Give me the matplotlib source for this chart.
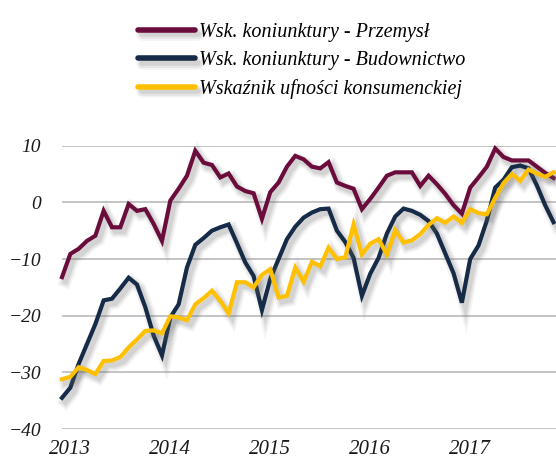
import matplotlib
matplotlib.use('Agg')
import matplotlib.pyplot as plt
import matplotlib.patheffects as pe

# miesiące od 01.2013 do 12.2017
months = list(range(60))
years = ['2013', '2014', '2015', '2016', '2017']

przemysl = [-13.2, -9.1, -8.2, -6.8, -5.9, -1.5, -4.4, -4.4, -0.3, -1.5,
            -1.2, -3.8, -6.8, 0.3, 2.4, 4.7, 9.1, 7.0, 6.6, 4.4,
            5.1, 2.8, 2.0, 1.6, -2.9, 1.8, 3.5, 6.3, 8.2, 7.6,
            6.3, 6.0, 7.1, 3.5, 2.9, 2.4, -1.2, 0.6, 2.6, 4.7,
            5.3, 5.3, 5.3, 2.9, 4.7, 3.2, 1.5, -0.5, -2.0, 2.6,
            4.4, 6.3, 9.5, 8.0, 7.4, 7.4, 7.4, 6.3, 5.2, 4.3]

budownictwo = [-34.5, -32.7, -28.5, -25.0, -21.5, -17.3, -17.0, -15.2, -13.3, -14.5,
               -18.5, -23.5, -27.0, -20.3, -18.0, -11.5, -7.5, -6.3, -5.0, -4.4,
               -3.9, -7.2, -10.6, -13.0, -19.0, -13.5, -10.0, -6.5, -4.3, -2.7,
               -1.8, -1.2, -1.1, -5.0, -7.0, -9.8, -16.5, -12.6, -9.8, -5.5,
               -2.5, -1.1, -1.5, -2.2, -3.3, -5.5, -9.0, -12.5, -17.7, -10.0,
               -7.6, -3.2, 2.6, 4.0, 6.2, 6.5, 6.0, 3.0, -0.5, -3.5]

konsument = [-31.2, -30.8, -29.1, -29.6, -30.3, -28.0, -27.9, -27.3, -25.6, -24.2,
             -22.7, -22.6, -23.1, -20.1, -20.3, -20.8, -18.0, -16.9, -15.6, -17.4,
             -19.6, -14.1, -14.1, -15.0, -12.8, -11.8, -16.8, -16.5, -11.5, -14.0,
             -10.5, -11.3, -8.0, -10.0, -9.7, -3.9, -9.2, -7.3, -6.5, -9.2,
             -4.9, -7.1, -6.7, -5.6, -4.0, -2.8, -3.6, -2.5, -3.6, -1.2,
             -1.9, -2.1, 0.8, 3.4, 5.0, 3.8, 5.8, 5.1, 4.5, 5.3]

labels = ['Wsk. koniunktury - Przemysł',
          'Wsk. koniunktury - Budownictwo',
          'Wskaźnik ufności konsumenckiej']
colors = ['#6b0d3c', '#152b47', '#ffc000']

plt.rcParams['font.family'] = ['Liberation Serif', 'DejaVu Serif']

fig = plt.figure(figsize=(5.56, 4.63), dpi=100)
ax = fig.add_axes([62 / 556, 1 - 429 / 463, 494 / 556, (429 - 145.7) / 463])

# rozmyty cień pod liniami - kilka warstw o małej przezroczystości
shadow = [pe.SimpleLineShadow(offset=(2.5, -3), shadow_color='#666666', alpha=0.07, linewidth=9),
          pe.SimpleLineShadow(offset=(2.5, -3), shadow_color='#666666', alpha=0.10, linewidth=6.5),
          pe.SimpleLineShadow(offset=(2.5, -3), shadow_color='#666666', alpha=0.14, linewidth=4),
          pe.Normal()]

for series, lab, col in zip([przemysl, budownictwo, konsument], labels, colors):
    ax.plot(months, series, color=col, lw=3, label=lab, clip_on=False,
            solid_joinstyle='miter', path_effects=shadow)

ax.set_xlim(0, 59.3)
ax.set_ylim(-40, 10)
ax.set_yticks(range(-40, 11, 10))
ax.set_xticks([1, 13, 25, 37, 49])
ax.set_xticklabels(years)
ax.yaxis.grid(True, color='#c4c4c4', lw=1.4)
ax.set_axisbelow(True)
for s in ax.spines.values():
    s.set_visible(False)
ax.tick_params(length=0)
ax.tick_params(axis='y', pad=15, labelsize=14)
ax.tick_params(axis='x', pad=8, labelsize=15)
for t in ax.get_xticklabels() + ax.get_yticklabels():
    t.set_style('italic')
    t.set_color('#1a1a1a')

leg = fig.legend(loc='upper left', bbox_to_anchor=(120 / 556, 1 - 5 / 463),
                 frameon=False, handlelength=2.8, handletextpad=0.2,
                 labelspacing=0.45,
                 prop={'family': 'Liberation Serif', 'style': 'italic', 'size': 14.5})
for line in leg.get_lines():
    line.set_linewidth(4)
    line.set_solid_capstyle('round')

fig.savefig('out.png', dpi=100)
